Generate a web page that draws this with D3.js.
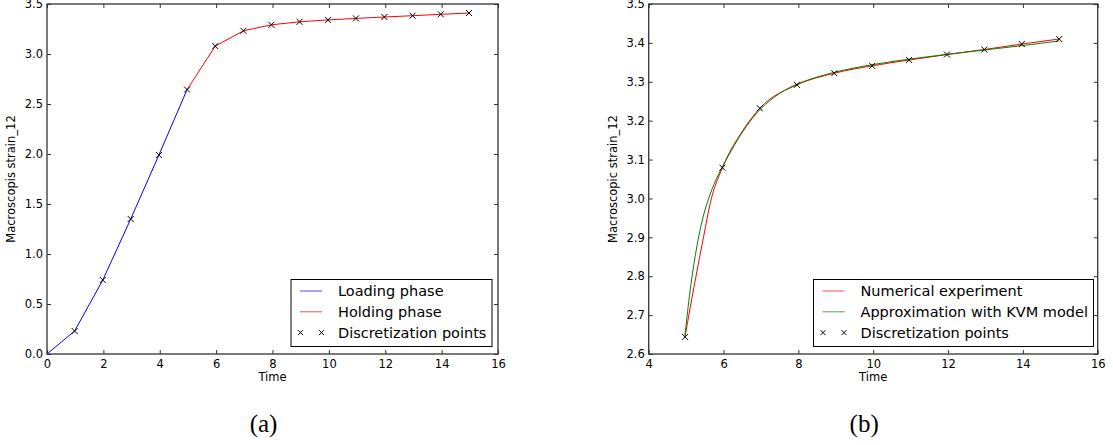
<!DOCTYPE html>
<html>
<head>
<meta charset="utf-8">
<script src="https://d3js.org/d3.v7.min.js"></script>
<style>
  body { margin: 0; background: #fff; }
  svg { display: block; }
  text { font-family: "DejaVu Sans", sans-serif; }
</style>
</head>
<body>
<div id="chart"></div>
<script>
// discretization points (shared by both panels)
const times = [0, 0.98, 1.98, 2.97, 3.97, 4.97, 5.97, 6.97, 7.96, 8.96, 9.97, 10.96, 11.97, 12.97, 13.97, 14.97];
const strain = [0, 0.23, 0.74, 1.35, 1.99, 2.644, 3.079, 3.232, 3.292, 3.322, 3.341, 3.356, 3.37, 3.383, 3.397, 3.41];
const loadEnd = 5; // index where holding phase starts

// panel (b) curves
const numTimes = [4.97, 5.25, 5.47, 5.65, 5.97, 6.47, 6.97, 7.96, 8.96, 9.97, 10.96, 11.97, 12.97, 13.97, 14.97];
const numStrain = [2.644, 2.793, 2.903, 2.99, 3.079, 3.168, 3.232, 3.292, 3.322, 3.341, 3.356, 3.37, 3.383, 3.397, 3.41];
const kvmTimes = [4.97, 5.1, 5.3, 5.5, 5.75, 5.97, 6.3, 6.6, 6.97, 7.5, 8, 9, 10, 11, 12, 13, 14, 14.97];
const kvmStrain = [2.648, 2.765, 2.89, 2.975, 3.04, 3.082, 3.14, 3.185, 3.232, 3.272, 3.298, 3.327, 3.345, 3.359, 3.371, 3.382, 3.393, 3.405];

const xTicksA = [0, 2, 4, 6, 8, 10, 12, 14, 16];
const yTicksA = [0, 0.5, 1, 1.5, 2, 2.5, 3, 3.5];
const xTicksB = [4, 6, 8, 10, 12, 14, 16];
const yTicksB = [2.6, 2.7, 2.8, 2.9, 3.0, 3.1, 3.2, 3.3, 3.4, 3.5];

const legendA = ["Loading phase", "Holding phase", "Discretization points"];
const legendB = ["Numerical experiment", "Approximation with KVM model", "Discretization points"];

const width = 1113, height = 445;
const svg = d3.select("#chart").append("svg").attr("width", width).attr("height", height);

const zip = (xs, ys) => xs.map((x, i) => [x, ys[i]]);

function panel(opt) {
    const x = d3.scaleLinear().domain(opt.xDom).range([opt.left, opt.right]);
    const y = d3.scaleLinear().domain(opt.yDom).range([354, 4]);
    const g = svg.append("g");

    // series
    opt.lines.forEach(l => {
        g.append("path")
            .datum(l.data)
            .attr("fill", "none")
            .attr("stroke", l.color)
            .attr("stroke-width", 1)
            .attr("d", d3.line().x(d => x(d[0])).y(d => y(d[1])).curve(l.curve || d3.curveLinear));
    });
    g.selectAll(".pt").data(opt.points).enter().append("path")
        .attr("transform", d => `translate(${x(d[0])},${y(d[1])})`)
        .attr("d", "M-3,-3L3,3M-3,3L3,-3")
        .attr("stroke", "#000").attr("stroke-width", 1);

    // axes, ticks inward on all four sides
    const ax = (axis, tx, ty) => g.append("g").attr("transform", `translate(${tx},${ty})`).call(axis);
    const styleAxis = sel => {
        sel.select(".domain").remove();
        sel.selectAll("line").attr("stroke", "#333").attr("stroke-width", 1);
        sel.selectAll("text").attr("font-size", 11.5).attr("fill", "#000");
    };
    ax(d3.axisBottom(x).tickValues(opt.xTicks).tickSize(-4).tickPadding(6).tickFormat(d3.format("d")), 0, 354).call(styleAxis);
    ax(d3.axisTop(x).tickValues(opt.xTicks).tickSize(-4).tickFormat(""), 0, 4).call(styleAxis);
    ax(d3.axisLeft(y).tickValues(opt.yTicks).tickSize(-4).tickPadding(4).tickFormat(d3.format(".1f")), opt.left, 0).call(styleAxis);
    ax(d3.axisRight(y).tickValues(opt.yTicks).tickSize(-4).tickFormat(""), opt.right, 0).call(styleAxis);

    g.append("rect")
        .attr("x", opt.left).attr("y", 4)
        .attr("width", opt.right - opt.left).attr("height", 350)
        .attr("fill", "none").attr("stroke", "#333").attr("stroke-width", 1.3);

    g.append("text")
        .attr("x", (opt.left + opt.right) / 2).attr("y", 381)
        .attr("text-anchor", "middle").attr("font-size", 11.5)
        .text("Time");
    g.append("text")
        .attr("transform", `translate(${opt.left - 32},179) rotate(-90)`)
        .attr("text-anchor", "middle").attr("font-size", 11.5)
        .text(opt.yLabel);

    // legend
    const L = opt.legend;
    const lg = g.append("g");
    lg.append("rect")
        .attr("x", L.x0).attr("y", 279.5)
        .attr("width", L.x1 - L.x0).attr("height", 67)
        .attr("fill", "#fff").attr("stroke", "#000").attr("stroke-width", 1);
    const rowsY = [291, 311.8, 332.6];
    L.labels.forEach((t, i) => {
        const yy = rowsY[i];
        if (i < 2) {
            lg.append("line")
                .attr("x1", L.x0 + 9).attr("x2", L.x0 + 31)
                .attr("y1", yy).attr("y2", yy)
                .attr("stroke", L.colors[i]).attr("stroke-opacity", 0.7).attr("stroke-width", 1);
        } else {
            [L.x0 + 9.5, L.x0 + 30.5].forEach(mx => {
                lg.append("path")
                    .attr("transform", `translate(${mx},${yy})`)
                    .attr("d", "M-2.5,-2.5L2.5,2.5M-2.5,2.5L2.5,-2.5")
                    .attr("stroke", "#000").attr("stroke-width", 1);
            });
        }
        lg.append("text")
            .attr("x", L.x0 + 47).attr("y", yy)
            .attr("dy", "0.36em").attr("font-size", 14.5)
            .text(t);
    });

    svg.append("text")
        .attr("x", (opt.left + opt.right) / 2 - 9).attr("y", 432)
        .attr("text-anchor", "middle")
        .attr("font-size", 25)
        .style("font-family", "'Liberation Serif', serif")
        .text(opt.caption);
}

const pts = zip(times, strain);

panel({
    left: 47, right: 498,
    xDom: [0, 16], yDom: [0, 3.5],
    xTicks: xTicksA, yTicks: yTicksA,
    yLabel: "Macroscopis strain_12",
    lines: [
        { data: pts.slice(0, loadEnd + 1), color: "#0000ff" },
        { data: pts.slice(loadEnd), color: "#ff0000" }
    ],
    points: pts.slice(1),
    legend: { x0: 291, x1: 492, labels: legendA, colors: ["#0000ff", "#ff0000"] },
    caption: "(a)"
});

panel({
    left: 648.7, right: 1097.7,
    xDom: [4, 16], yDom: [2.6, 3.5],
    xTicks: xTicksB, yTicks: yTicksB,
    yLabel: "Macroscopic strain_12",
    lines: [
        { data: zip(numTimes, numStrain), color: "#ff0000", curve: d3.curveMonotoneX },
        { data: zip(kvmTimes, kvmStrain), color: "#008000", curve: d3.curveBasis }
    ],
    points: pts.slice(loadEnd),
    legend: { x0: 813.5, x1: 1093.5, labels: legendB, colors: ["#ff0000", "#008000"] },
    caption: "(b)"
});
</script>
</body>
</html>
